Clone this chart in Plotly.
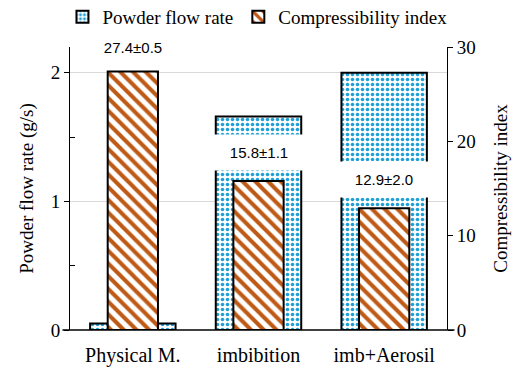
import plotly.graph_objects as go

categories = ["Physical M.", "imbibition", "imb+Aerosil"]
flow_rate = [0.05, 1.66, 2.0]
compress = [27.4, 15.8, 12.9]
compress_labels = ["27.4±0.5", "15.8±1.1", "12.9±2.0"]
label_pos = [30.0, 18.8, 16.0]

fig = go.Figure()
fig.add_trace(go.Bar(
    x=categories, y=flow_rate, name="Powder flow rate", yaxis="y", width=0.68,
    marker=dict(color="white", opacity=1, line=dict(color="black", width=2),
                pattern=dict(shape=".", fgcolor="#1E9FD6", bgcolor="white", size=5,
                             solidity=0.4, fgopacity=1)),
))
fig.add_trace(go.Bar(
    x=categories, y=compress, name="Compressibility index", yaxis="y2", width=0.4,
    marker=dict(color="white", opacity=1, line=dict(color="black", width=2),
                pattern=dict(shape="\\", fgcolor="#BE5A16", bgcolor="white", size=9,
                             solidity=0.45, fgopacity=1)),
))

for c, t, p in zip(categories, compress_labels, label_pos):
    fig.add_annotation(x=c, y=p, yref="y2", text=t, showarrow=False,
                       bgcolor="white", borderpad=9, width=88,
                       font=dict(family="Liberation Sans", size=15, color="black"))

# baseline extending slightly past both axes
fig.add_shape(type="line", xref="paper", yref="paper", x0=-0.02, x1=1.02, y0=0, y1=0,
              line=dict(color="black", width=1.5))

serif = "Liberation Serif"
fig.update_layout(
    width=514, height=375,
    margin=dict(l=62, r=75, t=39, b=53, autoexpand=False),
    plot_bgcolor="white", paper_bgcolor="white",
    barmode="overlay",
    font=dict(family=serif, size=18, color="black"),
    showlegend=True,
    legend=dict(orientation="h", x=-0.02, xanchor="left", y=1.106, yanchor="middle",
                font=dict(family=serif, size=19), itemwidth=30, traceorder="normal",
                bgcolor="rgba(0,0,0,0)"),
    xaxis=dict(showline=False, ticks="outside", ticklen=7, tickcolor="rgba(0,0,0,0)",
               tickfont=dict(family=serif, size=20)),
    yaxis=dict(range=[0, 2.2], tickvals=[0, 1, 2], showline=True, linecolor="black",
               linewidth=1, ticks="outside", ticklen=5, tickcolor="black",
               showgrid=True, gridcolor="#D9D9D9", zeroline=False,
               minor=dict(tickvals=[0.5, 1.5], ticks="inside", ticklen=5, tickcolor="black", showgrid=False),
               title=dict(text="Powder flow rate (g/s)", font=dict(family=serif, size=19), standoff=12),
               tickfont=dict(family=serif, size=19)),
    yaxis2=dict(range=[0, 30], tickvals=[0, 10, 20, 30], overlaying="y", side="right",
                showline=True, linecolor="black", linewidth=1, ticks="outside", ticklen=5,
                tickcolor="black", showgrid=False, zeroline=False,
                title=dict(text="Compressibility index", font=dict(family=serif, size=19), standoff=18),
                tickfont=dict(family=serif, size=19)),
)

fig.write_html("out.html")
